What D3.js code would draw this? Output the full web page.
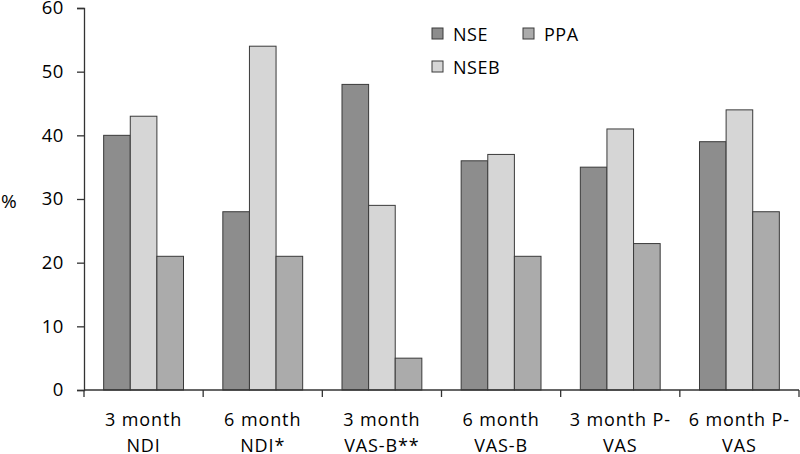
<!DOCTYPE html>
<html><head><meta charset="utf-8">
<script src="https://cdn.jsdelivr.net/npm/d3@7"></script>
<style>body{margin:0;background:#fff}svg{display:block}text{font-family:"Open Sans",sans-serif;fill:#000}</style>
</head><body><svg id="c" width="800" height="454"></svg>
<script>
const categories = [["3 month","NDI"],["6 month","NDI*"],["3 month","VAS-B**"],["6 month","VAS-B"],["3 month P-","VAS"],["6 month P-","VAS"]];
const seriesNames = ["NSE","NSEB","PPA"];
const NSE  = [40, 28, 48, 36, 35, 39];
const NSEB = [43, 54, 29, 37, 41, 44];
const PPA  = [21, 21, 5, 21, 23, 28];
const yTicks = [0,10,20,30,40,50,60];
const colors = {NSE:"#8d8d8d", NSEB:"#d6d6d6", PPA:"#ababab"};
const values = {NSE, NSEB, PPA};

const svg = d3.select("#c");
const mLeft = 84, mRight = 799, mTop = 8, mBottom = 390;
const x0 = d3.scaleBand().domain(d3.range(categories.length)).range([mLeft, mRight]).paddingInner(0.33).paddingOuter(0.165);
const x1 = d3.scaleBand().domain(seriesNames).range([0, x0.bandwidth()]).padding(0);
const y = d3.scaleLinear().domain([0,60]).range([mBottom, mTop]);

// bars
const g = svg.append("g");
categories.forEach((c,i)=>{
  seriesNames.forEach(s=>{
    g.append("rect")
      .attr("x", x0(i)+x1(s)).attr("y", y(values[s][i]))
      .attr("width", x1.bandwidth()).attr("height", y(0)-y(values[s][i]))
      .attr("fill", colors[s]).attr("stroke", "#3a3a3a").attr("stroke-width", 1);
  });
});

// y axis
const yAxis = svg.append("g").attr("transform", `translate(${mLeft},0)`)
  .call(d3.axisLeft(y).tickValues(yTicks).tickSize(7).tickPadding(13).tickFormat(d3.format("d")));
yAxis.select(".domain").attr("stroke","#333").attr("stroke-width",1.3);
yAxis.selectAll(".tick line").attr("stroke","#333").attr("stroke-width",1.3);
yAxis.selectAll(".tick text").attr("font-size",18.5).attr("font-family","Open Sans").attr("fill","#000").attr("letter-spacing",0.6);

// x axis
const xAxis = svg.append("g").attr("transform", `translate(0,${mBottom})`);
xAxis.append("line").attr("x1",mLeft).attr("x2",mRight).attr("y1",0).attr("y2",0).attr("stroke","#333").attr("stroke-width",1.3);
const edges = categories.map((c,i)=> mLeft + i*x0.step()).concat([mRight]);
edges.forEach(e=>{
  xAxis.append("line").attr("x1",e).attr("x2",e).attr("y1",0).attr("y2",7).attr("stroke","#333").attr("stroke-width",1.3);
});
categories.forEach((c,i)=>{
  const cx = x0(i) + x0.bandwidth()/2;
  const t = xAxis.append("text").attr("text-anchor","middle").attr("font-size",18).attr("letter-spacing",0.9);
  c.forEach((line,k)=>{
    t.append("tspan").attr("x",cx).attr("y", 36 + k*26).text(line);
  });
});

// y label
svg.append("text").attr("x",1).attr("y",208).attr("font-size",19).text("%");

// legend
const legend = [{s:"NSE",x:432,y:28},{s:"PPA",x:523,y:28},{s:"NSEB",x:432,y:61}];
legend.forEach(l=>{
  svg.append("rect").attr("x",l.x).attr("y",l.y).attr("width",11).attr("height",11)
    .attr("fill",colors[l.s]).attr("stroke","#3a3a3a").attr("stroke-width",1);
  svg.append("text").attr("x",l.x+21).attr("y",l.y+13).attr("font-size",18).attr("letter-spacing",0.5).text(l.s);
});
</script></body></html>
